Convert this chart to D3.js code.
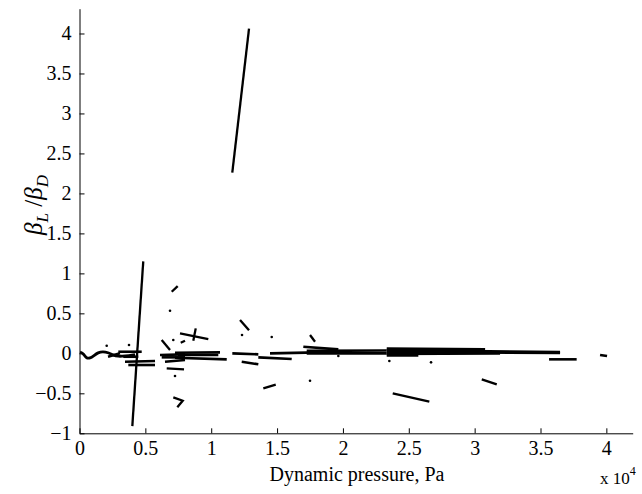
<!DOCTYPE html>
<html><head><meta charset="utf-8">
<script src="https://cdn.jsdelivr.net/npm/d3@7"></script>
<style>body{margin:0;background:#fff}svg{display:block}text{font-family:"Liberation Serif","Times New Roman",serif;fill:#000}</style>
</head><body><svg id="c" width="642" height="494"></svg>
<script>
// ---- data (x in Pa, y = beta_L/beta_D) ----
const xTickValues = [0,5000,10000,15000,20000,25000,30000,35000,40000];
const xTickLabels = ["0","0.5","1","1.5","2","2.5","3","3.5","4"];
const yTickValues = [-1,-0.5,0,0.5,1,1.5,2,2.5,3,3.5,4];
const yTickLabels = ["\u22121","\u22120.5","0","0.5","1","1.5","2","2.5","3","3.5","4"];

// long steep segments
const steepLines = [
  [[4010,-0.91],[4840,1.15]],
  [[11600,2.26],[12870,4.06]]
];
// wavy trace near the origin
const originCurve = [[40,0.016],[266,0.004],[494,-0.059],[797,-0.065],[1100,-0.0275],[1405,0.01],[1780,0.0225],[2160,0.01],[2540,-0.021],[2920,-0.04],[3455,-0.034],[4214,-0.015]];
// near-zero horizontal segments
const flatSegments = [
  [[2946,0.02],[4723,0.02]],
  [[2164,-0.0425],[3075,0]],
  [[3326,-0.0425],[4465,-0.0425]],
  [[3455,-0.105],[5733,-0.096]],
  [[3705,-0.146],[5733,-0.146]],
  [[6112,-0.021],[8011,-0.0125]],
  [[6241,-0.05],[8011,-0.05]],
  [[6492,-0.105],[8011,-0.084]],
  [[7251,0.0075],[10668,0.0125]],
  [[7479,-0.021],[10539,-0.021]],
  [[7251,-0.055],[11177,-0.075]],
  [[11602,0],[13576,-0.0125]],
  [[12316,-0.105],[13576,-0.1375]],
  [[13576,-0.05],[16112,-0.071]],
  [[14465,0],[18132,0.0125]],
  [[16993,0.0825],[19651,0.05]],
  [[17251,0.031],[23326,0.035]],
  [[17251,0],[23326,0]],
  [[23326,0.06],[30794,0.05]],
  [[23326,0.041],[36484,0.016]],
  [[23326,0.016],[36484,0.004]],
  [[23326,-0.009],[31929,-0.0025]],
  [[23326,-0.0275],[25725,-0.0275]],
  [[35649,-0.075],[37745,-0.075]],
  [[39522,-0.021],[40053,-0.034]]
];
// scattered short segments
const shortSegments = [
  [[7001,0.77],[7456,0.841]],
  [[12187,0.416],[12870,0.29]],
  [[17502,0.229],[17882,0.145]],
  [[7631,0.25],[9780,0.179]],
  [[8823,0.3125],[8641,0.1575]],
  [[6241,0.166],[6872,0.041]],
  [[7684,0.1325],[8011,0.1575]],
  [[6621,-0.1875],[7935,-0.2]],
  [[7122,-0.55],[7836,-0.5925],[7426,-0.675]],
  [[13956,-0.4375],[14898,-0.3925]],
  [[23781,-0.5],[26560,-0.605]],
  [[30539,-0.325],[31678,-0.3875]]
];
// isolated points
const dotPoints = [[6872,0.5325],[7251,-0.284],[12339,0.229],[14594,0.204],[17502,-0.3425],[19651,-0.034],[23523,-0.096],[26690,-0.1125],[2065,0.095],[3759,0.104],[7122,0.166]];

// ---- drawing ----
const svg = d3.select("#c");
const x = d3.scaleLinear().domain([0,42000]).range([79.5,632.7]);
const y = d3.scaleLinear().domain([-1,4.31]).range([433.3,8.7]);
const line = d3.line().x(d=>x(d[0])).y(d=>y(d[1]));

const g = svg.append("g");
g.selectAll("path.steep").data(steepLines).join("path").attr("d",line)
  .attr("fill","none").attr("stroke","#000").attr("stroke-width",2.3);
g.append("path").datum(originCurve).attr("d",line.curve(d3.curveBasis))
  .attr("fill","none").attr("stroke","#000").attr("stroke-width",2.8);
line.curve(d3.curveLinear);
g.selectAll("path.flat").data(flatSegments).join("path").attr("d",line)
  .attr("fill","none").attr("stroke","#000").attr("stroke-width",2.6);
g.selectAll("path.short").data(shortSegments).join("path").attr("d",line)
  .attr("fill","none").attr("stroke","#000").attr("stroke-width",2.3);
g.selectAll("circle").data(dotPoints).join("circle")
  .attr("cx",d=>x(d[0])).attr("cy",d=>y(d[1])).attr("r",1.3).attr("fill","#000");

// axes (MATLAB style, inward ticks, only left and bottom)
const xAxis = d3.axisBottom(x).tickValues(xTickValues).tickSize(-5)
  .tickFormat((d,i)=>xTickLabels[i]).tickSizeOuter(0);
const ax = svg.append("g").attr("transform",`translate(0,${y(-1)})`).call(xAxis);
ax.select(".domain").attr("stroke","#000");
ax.selectAll("text").attr("y",8).attr("dy","0.71em").style("font-size","20px");

const yAxis = d3.axisLeft(y).tickValues(yTickValues).tickSize(-5)
  .tickFormat((d,i)=>yTickLabels[i]).tickSizeOuter(0);
const ay = svg.append("g").attr("transform",`translate(${x(0)},0)`).call(yAxis);
ay.select(".domain").attr("stroke","#000");
ay.selectAll("text").attr("x",-8).style("font-size","20px");
svg.selectAll(".tick line").attr("stroke","#000");
svg.selectAll(".tick text").style("font-family","Liberation Serif");

// labels
svg.append("text").attr("x",357).attr("y",481).attr("text-anchor","middle")
  .style("font-size","20px").text("Dynamic pressure, Pa");
const ex = svg.append("text").attr("x",600).attr("y",484).style("font-size","17px");
ex.append("tspan").text("x 10");
ex.append("tspan").attr("dy",-9).style("font-size","12px").text("4");

const yl = svg.append("text").attr("transform","translate(42,205) rotate(-90)")
  .attr("text-anchor","middle").style("font-size","25px");
yl.append("tspan").style("font-style","italic").text("\u03B2");
yl.append("tspan").attr("dy",6).style("font-size","17px").style("font-style","italic").text("L");
yl.append("tspan").attr("dy",-6).text(" /");
yl.append("tspan").style("font-style","italic").text("\u03B2");
yl.append("tspan").attr("dy",6).style("font-size","17px").style("font-style","italic").text("D");
</script></body></html>
